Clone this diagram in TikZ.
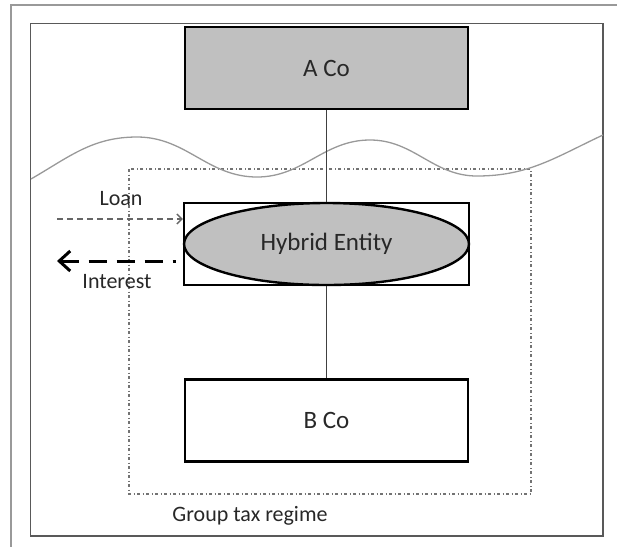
\documentclass[tikz,border=0pt]{standalone}
\usepackage{fontspec}
\setmainfont{Carlito}
\usetikzlibrary{arrows.meta,shapes.geometric}
\definecolor{boxgray}{RGB}{192,192,192}
\definecolor{txt}{RGB}{40,40,40}
\tikzset{
  cobox/.style={draw=black, line width=2.4pt, minimum width=283pt, minimum height=82pt, inner sep=0pt, text=txt, font=\fontsize{25}{28}\selectfont},
  hybell/.style={ellipse, draw=black, line width=2.4pt, fill=boxgray, minimum width=285pt, minimum height=82pt, inner sep=0pt, text=txt, font=\fontsize{25}{28}\selectfont},
  link/.style={draw=black!75, line width=1.3pt},
  sidelabel/.style={text=txt, font=\fontsize{22}{26}\selectfont, inner sep=0pt},
  loanarrow/.style={draw=black!60, line width=1.3pt, dash pattern=on 6pt off 4pt, -{Straight Barb[length=5pt,width=10pt,line width=1.3pt]}},
  intarrow/.style={draw=black, line width=3pt, dash pattern=on 18pt off 10pt, {Straight Barb[length=11pt,width=20pt,line width=3pt]}-},
  regime/.style={draw=black!55, line width=1.3pt, dash pattern=on 3pt off 2.5pt on 1pt off 2.5pt},
  wave/.style={draw=black!40, line width=1.3pt}
}
\begin{document}
\begin{tikzpicture}[x=1pt,y=-1pt]
\useasboundingbox (0,0) rectangle (617,547);
% frames
\draw[black!40, line width=1.3pt] (617,5) -- (11,5) -- (11,547);
\draw[black!65, line width=1.8pt] (30.5,23.5) rectangle (603,536);
% group tax regime box
\draw[regime] (129,169) rectangle (531,494);
% wave
\draw[wave] (31,179) to[out=30,in=180] (137,137) to[out=0,in=180] (257,177)
  to[out=0,in=180] (370,140) to[out=0,in=180] (477,176) to[out=0,in=205] (603,135);
% nodes
\node[cobox, fill=boxgray] (aco) at (326.5,68) {A Co};
\node[cobox, minimum width=285pt] (hyb) at (326.5,244) {};
\node[hybell] (hybell) at (326.5,244) {Hybrid Entity};
\node[cobox] (bco) at (326.5,420.5) {B Co};
% connectors
\draw[link] (aco.south) -- (hyb.north);
\draw[link] (hyb.south) -- (bco.north);
% loan / interest
\coordinate (loanstart) at (57,219);
\coordinate (intend) at (57,261);
\draw[loanarrow] (loanstart) -- (hyb.west |- loanstart);
\draw[intarrow, shorten >=7pt] (intend) -- (hyb.west |- intend);
\node[sidelabel] (loan) at (121,199) {Loan};
\node[sidelabel] (interest) at (117,282) {Interest};
\node[sidelabel] (gtr) at (250,516) {Group tax regime};
\end{tikzpicture}
\end{document}
